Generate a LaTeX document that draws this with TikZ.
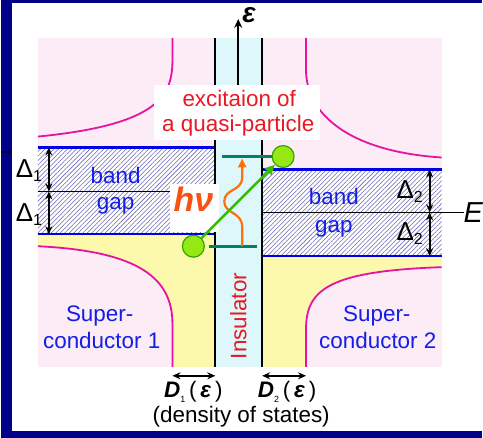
\documentclass[tikz,border=0pt]{standalone}
\usepackage{fontspec}
\setmainfont{Liberation Sans}
\usetikzlibrary{arrows.meta,patterns.meta}

\definecolor{frame}{RGB}{0,0,136}
\definecolor{bgpink}{RGB}{252,236,246}
\definecolor{insul}{RGB}{222,247,250}
\definecolor{dosline}{RGB}{228,20,160}
\definecolor{occupied}{RGB}{252,248,172}
\definecolor{gapblue}{RGB}{0,0,230}
\definecolor{hatchcol}{RGB}{105,105,178}
\definecolor{lblblue}{RGB}{20,30,230}
\definecolor{lblred}{RGB}{232,24,36}
\definecolor{levelcol}{RGB}{0,130,95}
\definecolor{photoncol}{RGB}{255,112,10}
\definecolor{hvcol}{RGB}{250,80,20}
\definecolor{jumpcol}{RGB}{50,190,0}
\definecolor{qpfill}{RGB}{150,232,20}
\definecolor{qpdraw}{RGB}{50,165,0}

\newcommand{\gapwidth}[1]{{\fontsize{26}{26}\selectfont Δ}\raisebox{-4pt}{\fontsize{16}{16}\selectfont #1}}

\begin{document}
\begin{tikzpicture}[
  x=1pt, y=-1pt,
  every node/.style={font=\fontsize{22.5}{25}\selectfont, inner sep=0pt},
  txt/.style={text=lblblue, anchor=base},
  note/.style={text=lblred, anchor=base},
  gapedge/.style={gapblue, line width=2.2pt},
  midline/.style={black, line width=1.2pt},
  dos/.style={dosline, line width=1.8pt},
  wall/.style={black, line width=2.2pt},
  hatched/.style={preaction={fill=white},
                  pattern={Lines[angle=45,distance=3.2pt,line width=0.55pt]},
                  pattern color=hatchcol},
  delta/.style={{Stealth[length=8pt,width=7pt]}-{Stealth[length=8pt,width=7pt]},
                line width=2pt},
  dosarrow/.style={{Stealth[length=8pt,width=7pt]}-{Stealth[length=8pt,width=7pt]},
                   line width=1.5pt},
  level/.style={levelcol, line width=3pt},
  qp/.style={circle, fill=qpfill, draw=qpdraw, line width=1.2pt,
             minimum size=22pt}
]
% frame
\fill[frame] (0,0) rectangle (483,439);
\fill[white] (11,3) rectangle (483,432);
\draw[line width=2pt, black!55!frame] (0,152) -- (10,152);

% background, insulator
\fill[bgpink] (37,38) rectangle (442,368);
\fill[insul] (215,38) rectangle (262,368);

% band gaps
\path[hatched] (37,148) rectangle (215,235);
\path[hatched] (262,170) rectangle (442,257);

% occupied states
\fill[occupied] (37,235) -- (215,235) -- (215,368) -- (172,368) -- (172,325)
  .. controls (172,280) and (140,252) .. (37,247) -- cycle;
\fill[occupied] (262,257) -- (442,257) -- (442,268)
  .. controls (330,272) and (306,290) .. (306,330) -- (306,368) -- (262,368) -- cycle;

% density of states
\draw[dos] (172,38) -- (172,60) .. controls (172,95) and (160,125) .. (37,137);
\draw[dos] (37,247) .. controls (140,252) and (172,280) .. (172,325) -- (172,368);
\draw[dos] (306,38) -- (306,70) .. controls (306,115) and (350,152) .. (442,158);
\draw[dos] (442,268) .. controls (330,272) and (306,290) .. (306,330) -- (306,368);

% gap edges and Fermi levels
\draw[gapedge] (37,148) -- (215,148);
\draw[gapedge] (37,235) -- (215,235);
\draw[gapedge] (262,170) -- (442,170);
\draw[gapedge] (262,257) -- (442,257);
\draw[midline] (37,192) -- (215,192);
\coordinate (fermiR) at (262,213);
\node[anchor=west, font=\fontsize{29}{29}\selectfont\itshape] (E) at (464,213) {E};
\draw[midline] (fermiR) -- (E.west);

% insulator walls
\draw[wall] (215,38) -- (215,368);
\draw[wall] (262,38) -- (262,368);

% energy axis
\coordinate (axisfoot) at (238,95);
\coordinate (axistip) at (238,19);
\draw[-{Stealth[length=9pt,width=8pt]}, line width=1.8pt] (axisfoot) -- (axistip);
\node[anchor=base west, font=\fontsize{28}{28}\selectfont\bfseries\itshape] (eps) at (242,23) {ε};

% label
\node[fill=white, minimum width=167pt, minimum height=55pt] (exbox) at (237,112.5) {};
\node[note] (ex1) at (239,107) {excitaion of};
\node[note] (ex2) at (238,132) {a quasi-particle};

% photon
\node[fill=white, minimum width=49pt, minimum height=48pt] (hvbox) at (194.5,209) {};
\node[text=hvcol, anchor=base, font=\fontsize{34}{34}\selectfont\bfseries\itshape] (hv) at (193,212) {hν};

% gap widths
\coordinate (d1a) at (48,148);
\coordinate (d1b) at (48,192);
\coordinate (d1c) at (48,235);
\coordinate (d2a) at (430,170);
\coordinate (d2b) at (430,213);
\coordinate (d2c) at (430,257);
\draw[delta] (d1a) -- (d1b);
\draw[delta] (d1b) -- (d1c);
\draw[delta] (d2a) -- (d2b);
\draw[delta] (d2b) -- (d2c);
\node[anchor=base] (D1up) at (28,178) {\gapwidth{1}};
\node[anchor=base] (D1lo) at (28,222) {\gapwidth{1}};
\node[anchor=base] (D2up) at (410,199) {\gapwidth{2}};
\node[anchor=base] (D2lo) at (410,241) {\gapwidth{2}};

% band gap texts
\node[txt] (bandL) at (115,184) {band};
\node[txt] (gapL) at (115,210) {gap};
\node[txt] (bandR) at (334,205) {band};
\node[txt] (gapR) at (334,233) {gap};

% materials
\node[txt] (sup1) at (99,323) {Super-};
\node[txt] (cond1) at (101,350) {conductor 1};
\node[txt] (sup2) at (377,323) {Super-};
\node[txt] (cond2) at (378,350) {conductor 2};
\node[text=lblred, rotate=90] (ins) at (238,317) {Insulator};

% quasi-particle levels
\coordinate (lowL) at (209,247);
\coordinate (lowR) at (257,247);
\coordinate (upL) at (222,157);
\coordinate (upR) at (272,157);
\draw[level] (lowL) -- (lowR);
\draw[level] (upL) -- (upR);
\coordinate (phfoot) at (242,247);
\coordinate (phtip) at (242,159);
\draw[photoncol, line width=2.2pt, -{Triangle[length=9pt,width=8pt]}] (phfoot) -- (242,228)
  .. controls (242,212) and (224,215) .. (224,202)
  .. controls (224,189) and (242,192) .. (242,178) -- (phtip);
\node[qp] (qpL) at (193,247) {};
\node[qp] (qpR) at (283,157) {};
\draw[jumpcol, line width=2.5pt, -{Triangle[length=10pt,width=9pt]}] (qpL) -- (qpR);

% density of states axis
\coordinate (dosL1) at (172,377);
\coordinate (dosL2) at (215,377);
\coordinate (dosR1) at (262,377);
\coordinate (dosR2) at (306,377);
\draw[dosarrow] (dosL1) -- (dosL2);
\draw[dosarrow] (dosR1) -- (dosR2);
\node[anchor=base] (DL) at (193,399) {\textbf{\textit{D}}\raisebox{-5pt}{\fontsize{9}{9}\selectfont 1}\,(\,\textbf{\textit{ε}}\,)};
\node[anchor=base] (DR) at (287,399) {\textbf{\textit{D}}\raisebox{-5pt}{\fontsize{9}{9}\selectfont 2}\,(\,\textbf{\textit{ε}}\,)};
\node[anchor=base] (dostxt) at (241,424) {(density of states)};
\end{tikzpicture}
\end{document}
